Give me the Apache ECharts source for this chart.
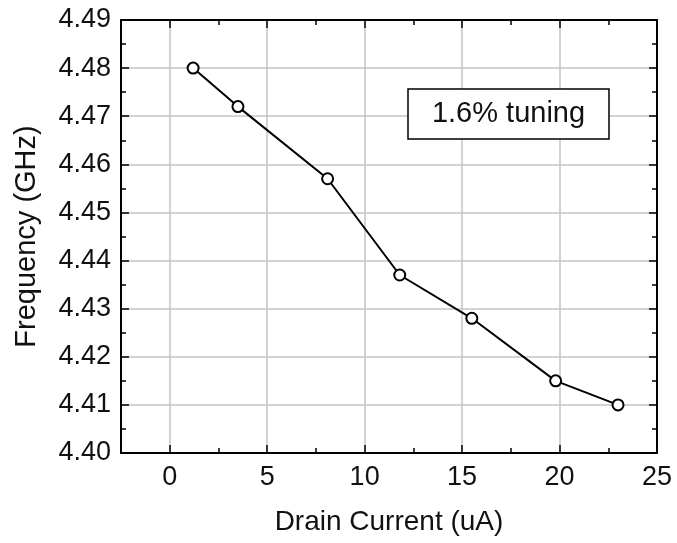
<!DOCTYPE html>
<html>
<head>
<meta charset="utf-8">
<script src="https://cdn.jsdelivr.net/npm/echarts@6/dist/echarts.min.js"></script>
<style>html,body{margin:0;padding:0;background:#fff}#c{width:677px;height:543px}</style>
</head>
<body>
<div id="c"></div>
<script>
// Data
const drainCurrent = [1.2, 3.5, 8.1, 11.8, 15.5, 19.8, 23.0];
const frequency = [4.480, 4.472, 4.457, 4.437, 4.428, 4.415, 4.410];
const xTitle = 'Drain Current (uA)';
const yTitle = 'Frequency (GHz)';
const annotation = '1.6% tuning';
const xRange = [-2.5, 25];
const yRange = [4.40, 4.49];

const FONT = '"Liberation Sans", Arial, sans-serif';
const chart = echarts.init(document.getElementById('c'), null, {renderer: 'canvas'});

const tickStyle = {show: true, inside: true, length: 8, lineStyle: {color: '#000', width: 1.5}};
const minorStyle = {show: true, splitNumber: 2, length: 5, lineStyle: {color: '#000', width: 1.5}};
const axisLine = {show: true, onZero: false, lineStyle: {color: '#000', width: 2}};

chart.setOption({
  animation: false,
  backgroundColor: '#fff',
  grid: {left: 121, right: 20, top: 20, bottom: 90, containLabel: false},
  xAxis: [{
    type: 'value', position: 'bottom', min: xRange[0], max: xRange[1], splitNumber: 5,
    axisLine: axisLine, axisTick: tickStyle, minorTick: minorStyle,
    axisLabel: {color: '#111', fontSize: 27, fontFamily: FONT, margin: 11, showMinLabel: false,
      formatter: v => (Math.abs(v % 5) < 1e-9 ? String(v) : '')},
    splitLine: {show: true, lineStyle: {color: '#c4c4c4', width: 1.5}},
    name: xTitle, nameLocation: 'middle', nameGap: 55,
    nameTextStyle: {color: '#111', fontSize: 28, fontFamily: FONT}
  }, {
    type: 'value', position: 'top', min: xRange[0], max: xRange[1], splitNumber: 5,
    axisLine: axisLine, axisTick: tickStyle, minorTick: minorStyle,
    axisLabel: {show: false}, splitLine: {show: false}
  }],
  yAxis: [{
    type: 'value', position: 'left', min: yRange[0], max: yRange[1], interval: 0.01,
    axisLine: axisLine, axisTick: tickStyle, minorTick: minorStyle,
    axisLabel: {color: '#111', fontSize: 27, fontFamily: FONT, margin: 10,
      formatter: v => v.toFixed(2)},
    splitLine: {show: true, lineStyle: {color: '#c4c4c4', width: 1.5}},
    name: yTitle, nameLocation: 'middle', nameGap: 80, nameRotate: 90,
    nameTextStyle: {color: '#111', fontSize: 29, fontFamily: FONT}
  }, {
    type: 'value', position: 'right', min: yRange[0], max: yRange[1], interval: 0.01,
    axisLine: axisLine, axisTick: tickStyle, minorTick: minorStyle,
    axisLabel: {show: false}, splitLine: {show: false}
  }],
  series: [{
    type: 'line',
    data: drainCurrent.map((x, i) => [x, frequency[i]]),
    symbol: 'emptyCircle', symbolSize: 11,
    lineStyle: {color: '#000', width: 2},
    itemStyle: {color: '#000', borderColor: '#000', borderWidth: 2},
    z: 5
  }],
  graphic: [{
    type: 'rect', x: 408, y: 89, z: 100, zlevel: 1,
    shape: {x: 0, y: 0, width: 201, height: 50},
    style: {fill: '#fff', stroke: '#000', lineWidth: 1.5}
  }, {
    type: 'text', x: 508.5, y: 114, z: 101, zlevel: 1,
    style: {text: annotation, fontSize: 29, fontFamily: FONT, fill: '#111', align: 'center', verticalAlign: 'middle'}
  }]
});
</script>
</body>
</html>
